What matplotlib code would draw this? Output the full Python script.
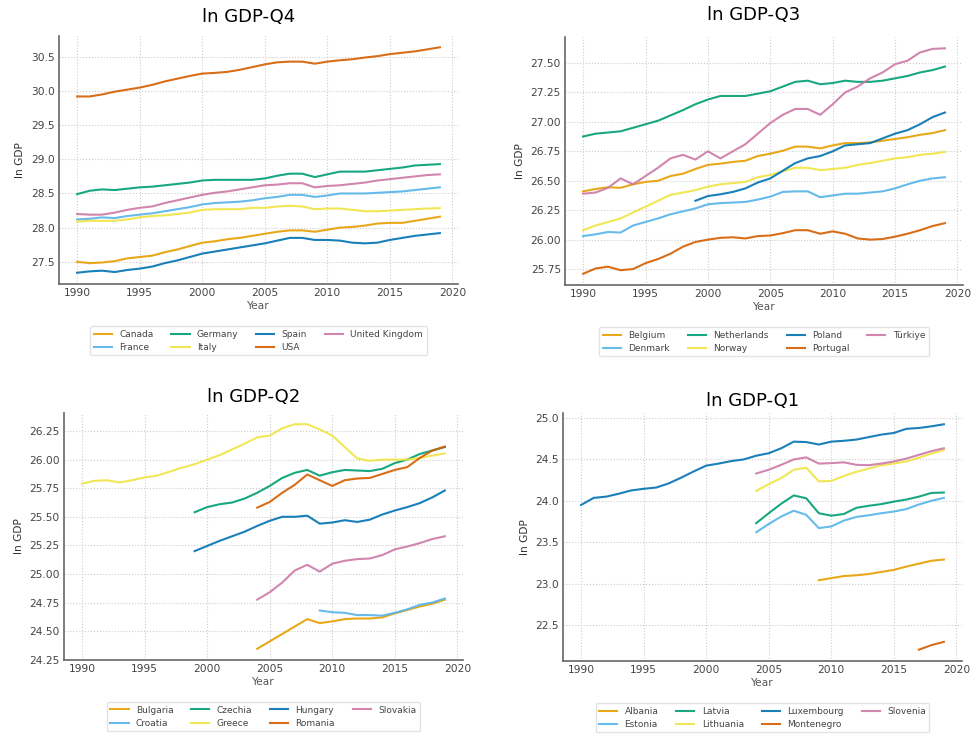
"""Plot ln GDP by country for the four GDP quartiles."""

import numpy
from matplotlib import pyplot

# Year ranges.
years_1990 = numpy.arange(1990, 2020)
years_1999 = numpy.arange(1999, 2020)
years_2004 = numpy.arange(2004, 2020)
years_2009 = numpy.arange(2009, 2020)
years_2017 = numpy.arange(2017, 2020)

# Q4 countries (1990-2019).
canada = [27.50, 27.48, 27.49, 27.51, 27.55, 27.57, 27.59, 27.64, 27.68, 27.73,
          27.78, 27.80, 27.83, 27.85, 27.88, 27.91, 27.94, 27.96, 27.96, 27.94,
          27.97, 28.00, 28.01, 28.03, 28.06, 28.07, 28.07, 28.10, 28.13, 28.16]
france = [28.12, 28.13, 28.15, 28.14, 28.17, 28.19, 28.21, 28.24, 28.27, 28.30,
          28.34, 28.36, 28.37, 28.38, 28.40, 28.43, 28.45, 28.48, 28.48, 28.45,
          28.47, 28.50, 28.50, 28.50, 28.51, 28.52, 28.53, 28.55, 28.57, 28.59]
germany = [28.49, 28.54, 28.56, 28.55, 28.57, 28.59, 28.60, 28.62, 28.64, 28.66,
           28.69, 28.70, 28.70, 28.70, 28.70, 28.72, 28.76, 28.79, 28.79, 28.74,
           28.78, 28.82, 28.82, 28.82, 28.84, 28.86, 28.88, 28.91, 28.92, 28.93]
italy = [28.09, 28.10, 28.10, 28.10, 28.12, 28.15, 28.17, 28.18, 28.20, 28.22,
         28.26, 28.27, 28.27, 28.27, 28.29, 28.29, 28.31, 28.32, 28.31, 28.27,
         28.28, 28.28, 28.26, 28.24, 28.24, 28.25, 28.26, 28.27, 28.28, 28.285]
spain = [27.34, 27.36, 27.37, 27.35, 27.38, 27.40, 27.43, 27.48, 27.52, 27.57,
         27.62, 27.65, 27.68, 27.71, 27.74, 27.77, 27.81, 27.85, 27.85, 27.82,
         27.82, 27.81, 27.78, 27.77, 27.78, 27.82, 27.85, 27.88, 27.90, 27.92]
usa = [29.92, 29.92, 29.95, 29.99, 30.02, 30.05, 30.09, 30.14, 30.18, 30.22,
       30.255, 30.265, 30.28, 30.31, 30.35, 30.39, 30.42, 30.43, 30.43, 30.40,
       30.43, 30.45, 30.465, 30.49, 30.51, 30.54, 30.56, 30.58, 30.61, 30.64]
united_kingdom = [28.20, 28.19, 28.19, 28.22, 28.26, 28.29, 28.31, 28.36, 28.40,
                  28.44, 28.48, 28.51, 28.53, 28.56, 28.59, 28.62, 28.63, 28.65,
                  28.65, 28.59, 28.61, 28.62, 28.64, 28.66, 28.69, 28.71, 28.73,
                  28.75, 28.77, 28.78]

# Q3 countries.
belgium = [26.41, 26.43, 26.445, 26.44, 26.47, 26.49, 26.50, 26.54, 26.56, 26.60,
           26.635, 26.645, 26.66, 26.67, 26.71, 26.73, 26.755, 26.79, 26.79,
           26.775, 26.80, 26.82, 26.82, 26.825, 26.84, 26.855, 26.87, 26.89,
           26.905, 26.93]
denmark = [26.03, 26.045, 26.065, 26.06, 26.12, 26.15, 26.18, 26.215, 26.24,
           26.265, 26.30, 26.31, 26.315, 26.32, 26.34, 26.365, 26.405, 26.41,
           26.41, 26.36, 26.375, 26.39, 26.39, 26.40, 26.41, 26.435, 26.47, 26.50,
           26.52, 26.53]
netherlands = [26.876, 26.90, 26.91, 26.92, 26.95, 26.98, 27.01, 27.055, 27.10,
               27.15, 27.19, 27.22, 27.22, 27.22, 27.24, 27.26, 27.30, 27.34,
               27.35, 27.32, 27.33, 27.35, 27.34, 27.34, 27.35, 27.37, 27.39,
               27.42, 27.44, 27.47]
norway = [26.08, 26.12, 26.15, 26.18, 26.23, 26.28, 26.33, 26.38, 26.40, 26.42,
          26.45, 26.47, 26.48, 26.49, 26.53, 26.55, 26.58, 26.61, 26.61, 26.59,
          26.60, 26.61, 26.635, 26.65, 26.67, 26.69, 26.70, 26.72, 26.73, 26.745]
poland = [26.33, 26.37, 26.385, 26.405, 26.435, 26.485, 26.52, 26.585, 26.65,
          26.69, 26.71, 26.75, 26.80, 26.81, 26.82, 26.86, 26.90, 26.93, 26.98,
          27.04, 27.08]
portugal = [25.71, 25.755, 25.77, 25.74, 25.75, 25.80, 25.835, 25.88, 25.94,
            25.98, 26.00, 26.015, 26.02, 26.01, 26.03, 26.035, 26.055, 26.08,
            26.08, 26.05, 26.07, 26.05, 26.01, 26.00, 26.005, 26.025, 26.05,
            26.08, 26.115, 26.14]
turkiye = [26.39, 26.40, 26.44, 26.52, 26.47, 26.54, 26.61, 26.69, 26.72, 26.68,
           26.75, 26.69, 26.75, 26.81, 26.90, 26.99, 27.06, 27.11, 27.11, 27.06,
           27.15, 27.25, 27.30, 27.37, 27.42, 27.49, 27.52, 27.59, 27.62, 27.625]

# Q2 countries.
bulgaria = [24.345, 24.41, 24.475, 24.54, 24.605, 24.57, 24.585, 24.605, 24.61,
            24.61, 24.62, 24.655, 24.685, 24.715, 24.74, 24.775]
croatia = [24.68, 24.665, 24.66, 24.64, 24.64, 24.635, 24.66, 24.69, 24.73,
           24.75, 24.785]
czechia = [25.54, 25.585, 25.61, 25.625, 25.66, 25.71, 25.77, 25.84, 25.885,
           25.91, 25.86, 25.89, 25.91, 25.905, 25.90, 25.92, 25.97, 26.00, 26.05,
           26.08, 26.11]
greece = [25.79, 25.815, 25.82, 25.80, 25.82, 25.845, 25.86, 25.895, 25.93,
          25.96, 26.00, 26.04, 26.09, 26.14, 26.195, 26.21, 26.275, 26.31, 26.31,
          26.265, 26.21, 26.11, 26.01, 25.99, 26.00, 26.00, 26.00, 26.015,
          26.035, 26.055]
hungary = [25.20, 25.245, 25.29, 25.33, 25.37, 25.42, 25.465, 25.50, 25.50,
           25.51, 25.44, 25.45, 25.47, 25.455, 25.475, 25.52, 25.555, 25.585,
           25.62, 25.67, 25.73]
romania = [25.58, 25.63, 25.71, 25.78, 25.87, 25.82, 25.77, 25.82, 25.835, 25.84,
           25.875, 25.91, 25.935, 26.015, 26.08, 26.115]
slovakia = [24.775, 24.84, 24.925, 25.03, 25.08, 25.02, 25.09, 25.115, 25.13,
            25.135, 25.165, 25.215, 25.24, 25.27, 25.305, 25.33]

# Q1 countries.
albania = [23.04, 23.065, 23.09, 23.10, 23.115, 23.14, 23.165, 23.205, 23.24,
           23.275, 23.29]
estonia = [23.62, 23.72, 23.81, 23.88, 23.83, 23.67, 23.69, 23.76, 23.805,
           23.825, 23.85, 23.87, 23.90, 23.955, 24.00, 24.035]
latvia = [23.73, 23.85, 23.965, 24.065, 24.03, 23.85, 23.82, 23.84, 23.915,
          23.94, 23.96, 23.99, 24.015, 24.05, 24.095, 24.10]
lithuania = [24.12, 24.20, 24.275, 24.375, 24.40, 24.235, 24.24, 24.30, 24.35,
             24.39, 24.43, 24.45, 24.475, 24.52, 24.57, 24.615]
luxembourg = [23.95, 24.035, 24.05, 24.085, 24.125, 24.145, 24.16, 24.21, 24.28,
              24.355, 24.425, 24.45, 24.48, 24.50, 24.545, 24.575, 24.635,
              24.715, 24.71, 24.68, 24.715, 24.725, 24.74, 24.77, 24.80, 24.82,
              24.87, 24.88, 24.90, 24.925]
montenegro = [22.20, 22.255, 22.295]
slovenia = [24.33, 24.375, 24.435, 24.50, 24.525, 24.45, 24.455, 24.465, 24.435,
            24.43, 24.45, 24.475, 24.51, 24.555, 24.60, 24.635]

colors = ['#E69F00', '#56B4E9', '#009E73', '#F0E442',
          '#0072B2', '#D55E00', '#CC79A7']

panels = [
    ('ln GDP-Q4', [0.0607, 0.6136, 0.4105, 0.3374], 10,
     [('Canada', years_1990, canada), ('France', years_1990, france),
      ('Germany', years_1990, germany), ('Italy', years_1990, italy),
      ('Spain', years_1990, spain), ('USA', years_1990, usa),
      ('United Kingdom', years_1990, united_kingdom)]),
    ('ln GDP-Q3', [0.5813, 0.6122, 0.4095, 0.3374], 12,
     [('Belgium', years_1990, belgium), ('Denmark', years_1990, denmark),
      ('Netherlands', years_1990, netherlands), ('Norway', years_1990, norway),
      ('Poland', years_1999, poland), ('Portugal', years_1990, portugal),
      ('Türkiye', years_1990, turkiye)]),
    ('ln GDP-Q2', [0.0658, 0.1020, 0.4105, 0.3361], 8,
     [('Bulgaria', years_2004, bulgaria), ('Croatia', years_2009, croatia),
      ('Czechia', years_1999, czechia), ('Greece', years_1990, greece),
      ('Hungary', years_1999, hungary), ('Romania', years_2004, romania),
      ('Slovakia', years_2004, slovakia)]),
    ('ln GDP-Q1', [0.5792, 0.1007, 0.4105, 0.3374], 5,
     [('Albania', years_2009, albania), ('Estonia', years_2004, estonia),
      ('Latvia', years_2004, latvia), ('Lithuania', years_2004, lithuania),
      ('Luxembourg', years_1990, luxembourg),
      ('Montenegro', years_2017, montenegro),
      ('Slovenia', years_2004, slovenia)]),
]

pyplot.rc('font', family='DejaVu Sans', size=7.7)
fig = pyplot.figure(figsize=(9.72, 7.35), dpi=100)

for title, rect, pad, series in panels:
    ax = fig.add_axes(rect)
    for (label, x, y), color in zip(series, colors):
        ax.plot(x, y, color=color, linewidth=1.5, alpha=0.9, label=label)
    ax.set_title(title, fontsize=13, x=0.475, pad=pad)
    ax.set_xlabel('Year', color='#555555', labelpad=2)
    ax.set_ylabel('ln GDP', color='#333333')
    ax.set_xticks(range(1990, 2021, 5))
    ax.grid(True, linestyle=':', color='#cccccc', linewidth=0.8)
    ax.tick_params(length=0, pad=3, labelcolor='#444444')
    for side in ('top', 'right'):
        ax.spines[side].set_visible(False)
    for side in ('left', 'bottom'):
        ax.spines[side].set_color('#666666')
        ax.spines[side].set_linewidth(1.2)
    leg = ax.legend(loc='upper center', bbox_to_anchor=(0.5, -0.17), ncol=4,
                    fontsize=6.5, frameon=True, fancybox=True,
                    borderaxespad=0, labelspacing=0.45, borderpad=0.4)
    leg.get_frame().set_edgecolor('#dddddd')
    for text in leg.get_texts():
        text.set_color('#444444')

fig.savefig('out.png', dpi=100)
